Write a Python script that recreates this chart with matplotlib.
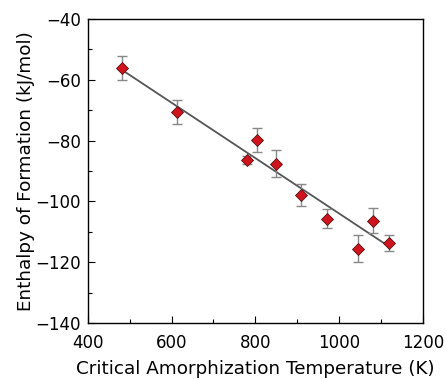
import numpy as np
import matplotlib
matplotlib.use("Agg")
import matplotlib.pyplot as plt
from matplotlib.ticker import MultipleLocator

plt.rcParams['font.family'] = ['DejaVu Sans']

# data
temperature = [481, 612, 781, 805, 850, 910, 970, 1046, 1080, 1120]
enthalpy = [-56.2, -70.7, -86.4, -79.7, -87.6, -97.8, -105.7, -115.6, -106.3, -113.6]
enthalpy_err = [4.0, 4.0, 1.4, 4.0, 4.5, 3.6, 3.2, 4.4, 4.2, 2.7]

# linear fit line end points
fit_x = [481, 1120]
fit_y = [-56.7, -114.9]

fig = plt.figure(figsize=(4.46, 3.8), dpi=100)
ax = fig.add_axes([0.197, 0.150, 0.751, 0.800])

ax.plot(fit_x, fit_y, color='#555555', linewidth=1.3, zorder=2)
ax.errorbar(temperature, enthalpy, yerr=enthalpy_err, fmt='none',
            ecolor='#888888', elinewidth=1.0, capsize=3.5, capthick=1.0,
            zorder=3)
ax.plot(temperature, enthalpy, linestyle='none', marker='D', markersize=6,
        markerfacecolor='#d0141e', markeredgecolor='#5a1010',
        markeredgewidth=0.6, zorder=4)

ax.set_xlim(400, 1200)
ax.set_ylim(-140, -40)
ax.xaxis.set_major_locator(MultipleLocator(200))
ax.xaxis.set_minor_locator(MultipleLocator(100))
ax.yaxis.set_major_locator(MultipleLocator(20))
ax.yaxis.set_minor_locator(MultipleLocator(10))
ax.tick_params(which='both', direction='in', top=False, right=False,
               labelsize=12, width=0.8)
ax.tick_params(which='major', length=5)
ax.tick_params(which='minor', length=3)
ax.tick_params(axis='x', which='major', pad=8)
ax.tick_params(axis='y', which='major', pad=5)
for s in ax.spines.values():
    s.set_linewidth(1.0)

ax.set_xlabel('Critical Amorphization Temperature (K)', fontsize=13.2,
              labelpad=6)
ax.set_ylabel('Enthalpy of Formation (kJ/mol)', fontsize=13.2, labelpad=0)

fig.savefig('out.png', dpi=100)
